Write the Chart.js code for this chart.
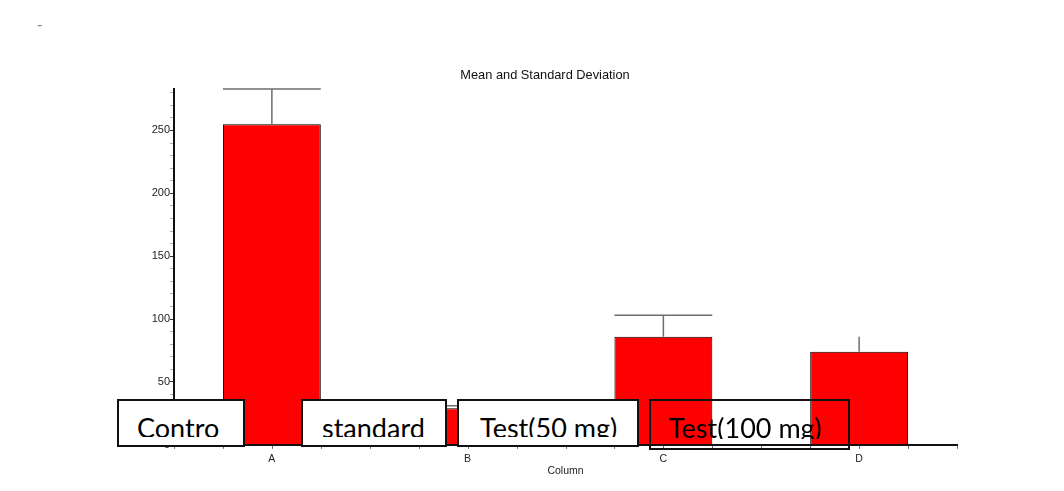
<!DOCTYPE html>
<html>
<head>
<meta charset="utf-8">
<script src="https://cdn.jsdelivr.net/npm/chart.js@4.4.0/dist/chart.umd.min.js"></script>
<style>
html,body{margin:0;padding:0;background:#fff;}
#wrap{position:relative;width:1064px;height:491px;overflow:hidden;background:#fff;}
#chartBox{position:absolute;left:0;top:0;width:1064px;height:491px;}
.box{position:absolute;box-sizing:border-box;border:2px solid #111;background:#fff;}
.box.clear{background:transparent;}
.clip{position:absolute;left:0;top:0;right:0;overflow:hidden;}
.clip span{position:absolute;font-family:Lato,"Open Sans",sans-serif;font-size:27px;line-height:27px;white-space:nowrap;color:#000;}
#dash{position:absolute;left:37px;top:17px;font-family:"Liberation Sans",Arial,sans-serif;font-size:16px;line-height:16px;color:#888;}
</style>
</head>
<body>
<div id="wrap">
  <div id="chartBox"><canvas id="c"></canvas></div>
  <div id="dash">-</div>
</div>
<script>
// ---- data ----
const categories = ['A', 'B', 'C', 'D'];
const means = [255, 29, 86, 74];
const sds = [28, 2, 17, 12];
const caps = [true, true, true, false];
const chartTitle = 'Mean and Standard Deviation';
const xTitle = 'Column';
const legendLabels = ['Contro', 'standard', 'Test(50 mg)', 'Test(100 mg)'];

// ---- overlay label boxes (style/positions) ----
const boxStyles = [
  {left:117, top:399, width:128, height:48, clipH:36, textLeft:18, clear:false},
  {left:301, top:399, width:146, height:48, clipH:36, textLeft:19, clear:false},
  {left:457, top:399, width:182, height:48, clipH:36, textLeft:21, clear:false},
  {left:649, top:399, width:201, height:51, clipH:38, textLeft:18, clear:true}
];
const wrap = document.getElementById('wrap');
legendLabels.forEach((txt, i) => {
  const s = boxStyles[i];
  const b = document.createElement('div');
  b.className = 'box' + (s.clear ? ' clear' : '');
  b.style.left = s.left + 'px'; b.style.top = s.top + 'px';
  b.style.width = s.width + 'px'; b.style.height = s.height + 'px';
  const c = document.createElement('div');
  c.className = 'clip'; c.style.height = s.clipH + 'px';
  const sp = document.createElement('span');
  sp.textContent = txt;
  sp.style.left = s.textLeft + 'px'; sp.style.top = '13px';
  c.appendChild(sp); b.appendChild(c); wrap.appendChild(b);
});

const errorBars = {
  id: 'errorBars',
  afterDatasetsDraw(chart) {
    const ctx = chart.ctx, y = chart.scales.y;
    const meta = chart.getDatasetMeta(0);
    ctx.save();
    ctx.strokeStyle = '#6e6e6e';
    ctx.lineWidth = 1.5;
    meta.data.forEach((bar, i) => {
      const top = y.getPixelForValue(means[i] + sds[i]);
      const base = y.getPixelForValue(means[i]);
      ctx.beginPath();
      ctx.moveTo(bar.x, base); ctx.lineTo(bar.x, top);
      if (caps[i]) { ctx.moveTo(bar.x - bar.width / 2, top); ctx.lineTo(bar.x + bar.width / 2, top); }
      ctx.stroke();
    });
    ctx.restore();
  }
};

const xMinorTicks = {
  id: 'xMinorTicks',
  afterDraw(chart) {
    const ctx = chart.ctx, x = chart.scales.x, yb = chart.chartArea.bottom;
    ctx.save();
    ctx.strokeStyle = '#666';
    ctx.lineWidth = 1;
    const n = categories.length * 4;
    for (let j = 0; j <= n; j++) {
      const v = -0.5 + j * 0.25;
      const px = Math.round(x.getPixelForValue(v)) + 0.5;
      ctx.beginPath(); ctx.moveTo(px, yb + 1); ctx.lineTo(px, yb + 4); ctx.stroke();
    }
    ctx.restore();
  }
};

new Chart(document.getElementById('c'), {
  type: 'bar',
  data: {
    labels: categories,
    datasets: [{
      data: means,
      backgroundColor: '#ff0000',
      borderColor: '#000000',
      borderWidth: 1,
      categoryPercentage: 1.0,
      barPercentage: 0.5
    }]
  },
  options: {
    responsive: true,
    maintainAspectRatio: false,
    animation: false,
    devicePixelRatio: 1,
    layout: { padding: { left: 133, right: 107, top: 0, bottom: 14 } },
    plugins: {
      legend: { display: false },
      tooltip: { enabled: false },
      title: {
        display: true,
        text: chartTitle,
        color: '#111',
        font: { family: 'Liberation Sans', size: 12.8, weight: 'normal' },
        padding: { top: 68, bottom: 5.6 }
      }
    },
    scales: {
      x: {
        grid: { display: true, drawOnChartArea: false, drawTicks: false },
        border: { display: true, color: '#111', width: 2 },
        ticks: { color: '#222', font: { family: 'Liberation Sans', size: 10.5 }, padding: 8 },
        title: { display: true, text: xTitle, color: '#222', font: { family: 'Liberation Sans', size: 10.5 }, padding: { top: -9, bottom: 0 } }
      },
      y: {
        min: 0,
        max: 283,
        afterFit(scale) { scale.width = 41; },
        grid: {
          drawOnChartArea: false,
          drawTicks: true,
          tickLength: 4,
          tickColor: (c) => (c.tick && c.tick.value % 50 === 0) ? '#333' : '#b0b0b0'
        },
        border: { display: true, color: '#111', width: 2 },
        ticks: {
          stepSize: 10,
          includeBounds: false,
          autoSkip: false,
          padding: 0,
          color: '#222',
          font: { family: 'Liberation Sans', size: 11 },
          callback: (v) => (v % 50 === 0 ? v : '')
        }
      }
    }
  },
  plugins: [errorBars, xMinorTicks]
});
</script>
</body>
</html>
